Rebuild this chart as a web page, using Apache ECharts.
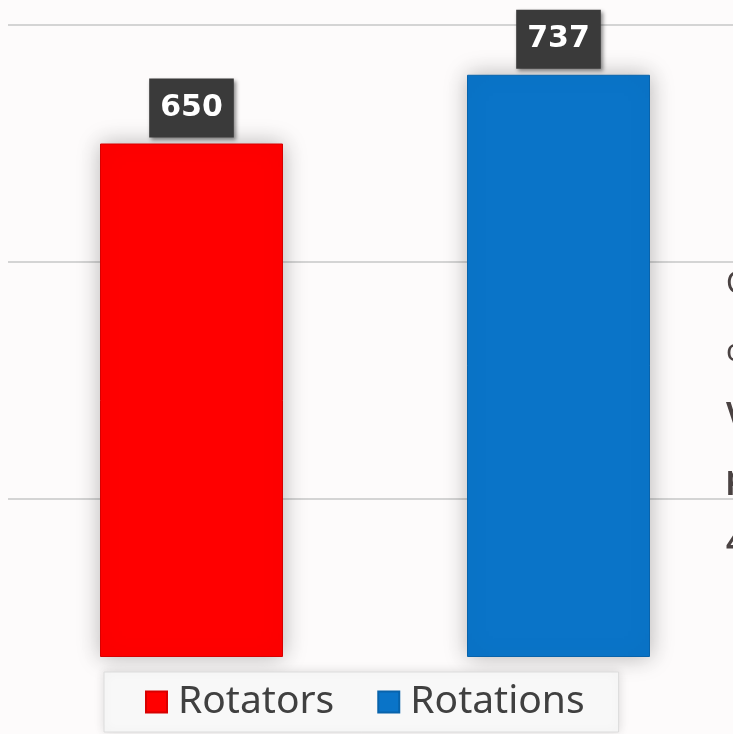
<!DOCTYPE html>
<html>
<head>
<meta charset="utf-8">
<script src="https://cdn.jsdelivr.net/npm/echarts@6/dist/echarts.min.js"></script>
<style>
html,body{margin:0;padding:0;background:#fdfbfb;}
#chart{width:733px;height:734px;}
</style>
</head>
<body>
<div id="chart"></div>
<script>
const categories = ['Rotators', 'Rotations'];
const seriesNames = ['Rotators', 'Rotations'];
const rotatorsValues = [650, '-'];
const rotationsValues = ['-', 737];
const axisMin = 0;
const axisMax = 800;
const axisInterval = 100;
const sideTexts = ['C', 'c', 'V', 'p', '4'];

const chart = echarts.init(document.getElementById('chart'), null, {renderer: 'canvas'});

const labelStyle = {
  show: true,
  position: 'top',
  distance: 6,
  color: '#ffffff',
  fontFamily: 'DejaVu Sans',
  fontWeight: 'bold',
  fontSize: 30,
  lineHeight: 35,
  backgroundColor: '#3a3a3a',
  padding: [12, 11, 12, 11],
  shadowColor: 'rgba(0,0,0,0.45)',
  shadowBlur: 4,
  shadowOffsetX: 2,
  shadowOffsetY: 2
};

const sideY = [289, 357, 420, 484, 549];
const graphics = sideTexts.map((t, i) => ({
  type: 'text',
  left: 726,
  top: sideY[i] - 20,
  style: {
    text: t,
    fill: '#4a4242',
    font: (i >= 2 ? 'bold ' : '') + '30px "Noto Sans"'
  }
}));

chart.setOption({
  backgroundColor: '#fdfbfb',
  animation: false,
  grid: {left: 8, right: -9, top: 25, bottom: 77, containLabel: false, outerBoundsMode: 'none'},
  legend: {
    data: seriesNames,
    left: 104,
    top: 672,
    itemWidth: 21,
    itemHeight: 21,
    itemGap: 43,
    icon: 'rect',
    backgroundColor: '#f8f8f8',
    borderColor: '#dcdcdc',
    borderWidth: 1,
    padding: [10, 34, 10, 41],
    shadowColor: 'rgba(0,0,0,0.12)',
    shadowBlur: 10,
    textStyle: {
      fontFamily: 'Noto Sans',
      fontSize: 39,
      lineHeight: 40,
      color: '#404040',
      padding: [0, 0, 0, 6]
    }
  },
  xAxis: {
    type: 'category',
    data: categories,
    axisLine: {show: false},
    axisTick: {show: false},
    axisLabel: {show: false},
    splitLine: {show: false}
  },
  yAxis: {
    type: 'value',
    min: axisMin,
    max: axisMax,
    interval: axisInterval,
    axisLine: {show: false},
    axisTick: {show: false},
    axisLabel: {show: false},
    splitLine: {
      show: true,
      lineStyle: {color: ['transparent', 'transparent', '#d4d4d4'], width: 2}
    }
  },
  series: [
    {
      name: seriesNames[0],
      type: 'bar',
      data: rotatorsValues,
      barWidth: 183,
      barGap: '-100%',
      itemStyle: {
        color: '#ff0000',
        borderColor: '#d80000',
        borderWidth: 1,
        shadowColor: 'rgba(0,0,0,0.28)',
        shadowBlur: 22
      },
      label: labelStyle
    },
    {
      name: seriesNames[1],
      type: 'bar',
      data: rotationsValues,
      barWidth: 183,
      barGap: '-100%',
      itemStyle: {
        color: '#0a74c8',
        borderColor: '#0863ab',
        borderWidth: 1,
        shadowColor: 'rgba(0,0,0,0.28)',
        shadowBlur: 22
      },
      label: labelStyle
    }
  ],
  graphic: graphics
});
</script>
</body>
</html>
